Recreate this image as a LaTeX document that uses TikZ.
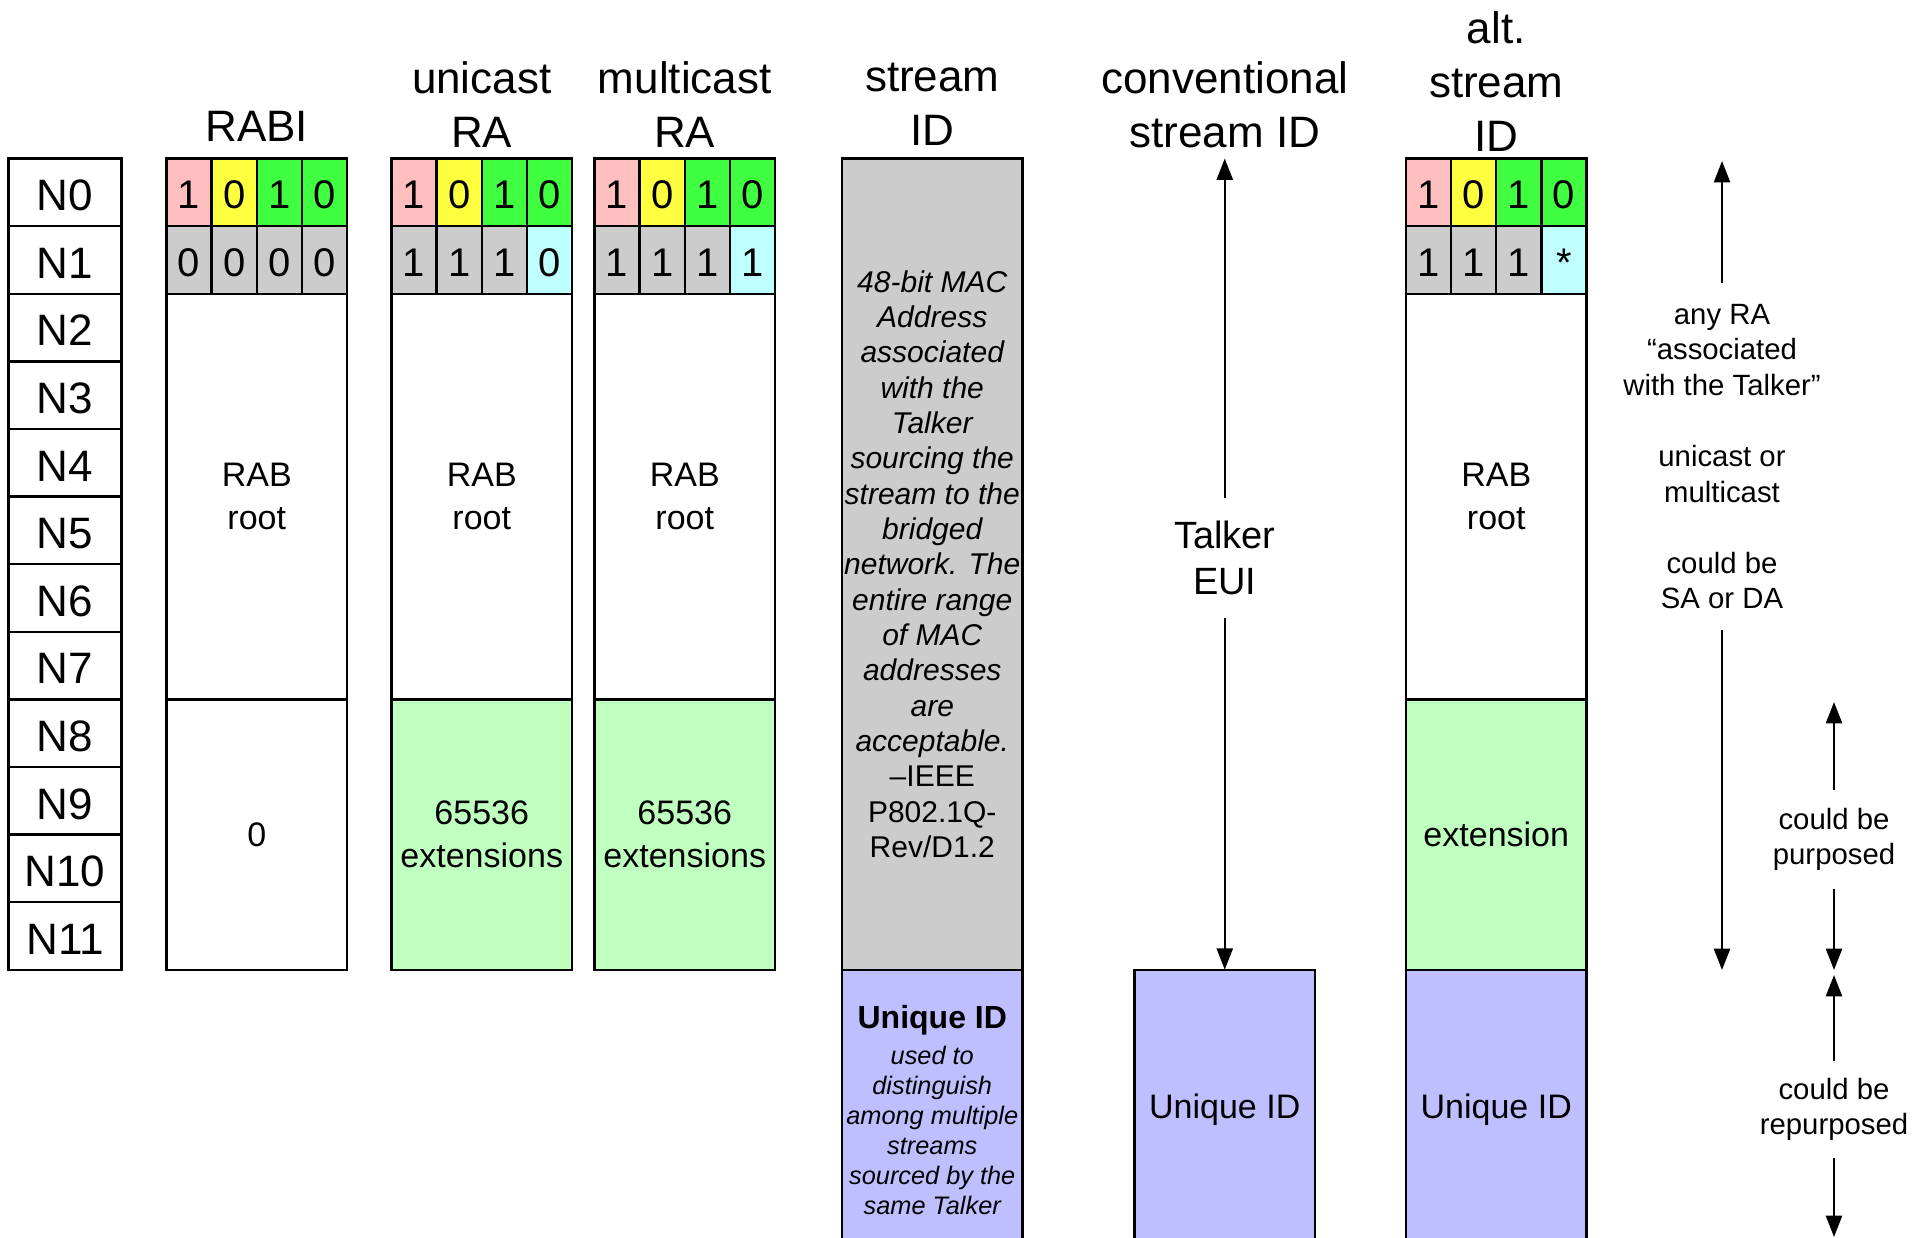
\documentclass[tikz,border=0pt]{standalone}
\usepackage{fontspec}
\setmainfont{Liberation Sans}
\usetikzlibrary{arrows.meta}
\def\u{0.75pt}
\definecolor{bitpink}{HTML}{FFBFBF}
\definecolor{bityellow}{HTML}{FFFF40}
\definecolor{bitgreen}{HTML}{40FF40}
\definecolor{bitgray}{HTML}{CCCCCC}
\definecolor{bitcyan}{HTML}{BFFFFF}
\definecolor{extgreen}{HTML}{BFFFBF}
\definecolor{uidblue}{HTML}{BFBFFF}
\tikzset{
  frame/.style={draw, line width=1.8pt, inner sep=0pt, outer sep=0pt, anchor=north west,
    align=center, minimum width=180.5*\u, font=\fontsize{25.5pt}{32pt}\selectfont},
  bitcell/.style={frame, minimum width=45.125*\u, minimum height=67.6*\u,
    text height=25pt, text depth=0pt, font=\fontsize{30pt}{30pt}\selectfont},
  nlabel/.style={frame, minimum width=113*\u, minimum height=67.6*\u,
    text height=27.5pt, text depth=0pt, font=\fontsize{33pt}{33pt}\selectfont},
  heading/.style={align=center, inner sep=0pt, font=\fontsize{33pt}{40.5pt}\selectfont},
  note/.style={align=center, inner sep=0pt, font=\fontsize{22pt}{26.7pt}\selectfont},
  span/.style={line width=1.8pt, -{Triangle[width=12pt,length=16pt]}},
}
\begin{document}
\begin{tikzpicture}[x=\u, y=-\u]
\clip (0,0) rectangle (1927,1238);
\fill[white] (0,0) rectangle (1927,1238);

% octet labels
\foreach \i in {0,...,11}
  \node[nlabel] (n\i) at (8.5,158.5+\i*67.6) {N\i};

% column headings
\node[heading] (h-rabi)   at (256.75,126.6) {RABI};
\node[heading] (h-uni)    at (481.75,104.5) {unicast\\RA};
\node[heading] (h-multi)  at (684.75,104.5) {multicast\\RA};
\node[heading] (h-stream) at (932.25,104.5) {stream\\ID};
\node[heading] (h-conv)   at (1224.75,104.5) {conventional\\stream ID};
\node[heading] (h-alt)    at (1496.25,81.7) {alt.\\stream\\ID};

% first two octets as nibble cells
\foreach \c/\x/\e/\d/\dc in {rabi/166.5/0/0/bitgray, uni/391.5/1/0/bitcyan,
                             multi/594.5/1/1/bitcyan, alt/1406/1/*/bitcyan} {
  \foreach \v/\col [count=\i from 0] in {1/bitpink, 0/bityellow, 1/bitgreen, 0/bitgreen}
    \node[bitcell, fill=\col] (\c-a\i) at (\x+\i*45.125,158.5) {\v};
  \foreach \i in {0,1,2}
    \node[bitcell, fill=bitgray] (\c-b\i) at (\x+\i*45.125,226.1) {\e};
  \node[bitcell, fill=\dc] (\c-b3) at (\x+3*45.125,226.1) {\d};
}

% RABI
\node[frame, minimum height=405.6*\u] (rabi-root) at (166.5,293.7) {RAB\\root};
\node[frame, minimum height=270.4*\u] (rabi-low) at (166.5,699.3) {0};

% unicast RA
\node[frame, minimum height=405.6*\u] (uni-root) at (391.5,293.7) {RAB\\root};
\node[frame, fill=extgreen, minimum height=270.4*\u] (uni-ext) at (391.5,699.3) {65536\\extensions};

% multicast RA
\node[frame, minimum height=405.6*\u] (multi-root) at (594.5,293.7) {RAB\\root};
\node[frame, fill=extgreen, minimum height=270.4*\u] (multi-ext) at (594.5,699.3) {65536\\extensions};

% stream ID
\node[frame, fill=bitgray, minimum height=811.2*\u,
      font=\itshape\fontsize{22.5pt}{26.5pt}\selectfont] (stream-mac) at (842,158.5)
  {48-bit MAC\\Address\\associated\\with the\\Talker\\sourcing the\\stream to the\\bridged\\
   network. The\\entire range\\of MAC\\addresses\\are\\acceptable.\\
   \upshape –IEEE\\\upshape P802.1Q-\\\upshape Rev/D1.2};
\node[frame, fill=uidblue, minimum height=280*\u,
      font=\itshape\fontsize{19pt}{22.5pt}\selectfont] (stream-uid) at (842,969.7)
  {{\upshape\bfseries\fontsize{24pt}{27pt}\selectfont Unique ID}\\[4.5pt]
   used to\\distinguish\\among multiple\\streams\\sourced by the\\same Talker};

% conventional stream ID
\node[frame, fill=uidblue, minimum height=280*\u] (conv-uid) at (1134.5,969.7) {Unique ID};
\node[align=center, inner sep=0pt, minimum height=120*\u,
      font=\fontsize{28.5pt}{35pt}\selectfont] (talker) at (1224.75,558) {Talker\\EUI};
\coordinate (conv-top) at (1224.75,158.5);
\draw[span] (talker) -- (conv-top);
\draw[span] (talker) -- (conv-uid.north);

% alternative stream ID
\node[frame, minimum height=405.6*\u] (alt-root) at (1406,293.7) {RAB\\root};
\node[frame, fill=extgreen, minimum height=270.4*\u] (alt-ext) at (1406,699.3) {extension};
\node[frame, fill=uidblue, minimum height=280*\u] (alt-uid) at (1406,969.7) {Unique ID};

% annotations on the right
\node[note, minimum height=347*\u] (anyra) at (1722,456.5)
  {any RA\\“associated\\with the Talker”\\[26.7pt]unicast or\\multicast\\[26.7pt]could be\\SA or DA};
\coordinate (anyra-top) at (1722,161);
\coordinate (anyra-bot) at (1722,970);
\draw[span] (anyra) -- (anyra-top);
\draw[span] (anyra) -- (anyra-bot);

\node[note, minimum height=99*\u] (purp) at (1834,839.5) {could be\\purposed};
\coordinate (purp-top) at (1834,702);
\coordinate (purp-bot) at (1834,970);
\draw[span] (purp) -- (purp-top);
\draw[span] (purp) -- (purp-bot);

\node[note, minimum height=97*\u] (repurp) at (1834,1109.5) {could be\\repurposed};
\coordinate (repurp-top) at (1834,975);
\coordinate (repurp-bot) at (1834,1237);
\draw[span] (repurp) -- (repurp-top);
\draw[span] (repurp) -- (repurp-bot);
\end{tikzpicture}
\end{document}
